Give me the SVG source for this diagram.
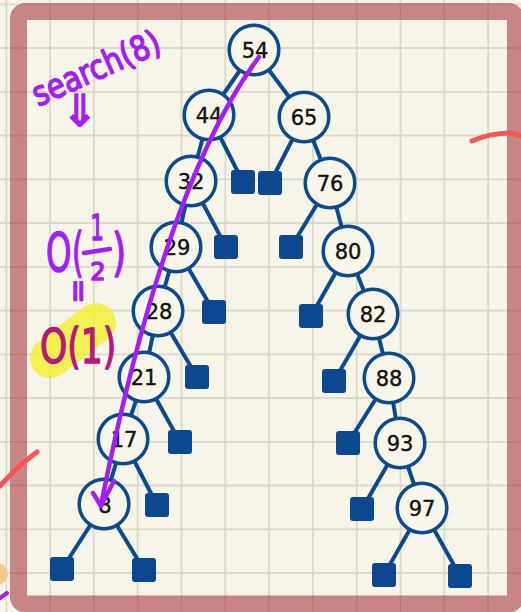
<svg xmlns="http://www.w3.org/2000/svg" width="521" height="612" viewBox="0 0 521 612">
<defs>
<style>
.grid line{stroke:#dcd9cd;stroke-width:1.8}
.edge{stroke:#0b4a8e;stroke-width:4;stroke-linecap:round;fill:none}
.node circle{fill:#f8f6ea;stroke:#0b4a8e;stroke-width:3.5}
.node text{font-family:"DejaVu Sans",sans-serif;font-size:21px;fill:#111;stroke:#111;stroke-width:0.4;text-anchor:middle}
.leaf rect{fill:#0b4890;width:24px;height:24px}
.hand{font-family:"DejaVu Sans",sans-serif;fill:#a31ef2;stroke:#a31ef2;stroke-width:1.5;stroke-linejoin:round}
.pen{stroke:#a31ef2;stroke-width:4.5;stroke-linecap:round;stroke-linejoin:round;fill:none}
.red{stroke:#f25656;stroke-width:5;stroke-linecap:round;fill:none}
</style>
</defs>
<rect width="521" height="612" fill="#f7f5ea"/>
<g class="grid">
<line x1="6.3" y1="0" x2="6.3" y2="612"/><line x1="50.1" y1="0" x2="50.1" y2="612"/><line x1="93.9" y1="0" x2="93.9" y2="612"/><line x1="137.7" y1="0" x2="137.7" y2="612"/><line x1="181.5" y1="0" x2="181.5" y2="612"/><line x1="225.3" y1="0" x2="225.3" y2="612"/><line x1="269.1" y1="0" x2="269.1" y2="612"/><line x1="312.9" y1="0" x2="312.9" y2="612"/><line x1="356.7" y1="0" x2="356.7" y2="612"/><line x1="400.5" y1="0" x2="400.5" y2="612"/><line x1="444.3" y1="0" x2="444.3" y2="612"/><line x1="488.1" y1="0" x2="488.1" y2="612"/>
<line x1="0" y1="4.3" x2="521" y2="4.3"/><line x1="0" y1="48" x2="521" y2="48"/><line x1="0" y1="91.8" x2="521" y2="91.8"/><line x1="0" y1="135.5" x2="521" y2="135.5"/><line x1="0" y1="179.3" x2="521" y2="179.3"/><line x1="0" y1="223" x2="521" y2="223"/><line x1="0" y1="266.8" x2="521" y2="266.8"/><line x1="0" y1="310.5" x2="521" y2="310.5"/><line x1="0" y1="354.3" x2="521" y2="354.3"/><line x1="0" y1="398" x2="521" y2="398"/><line x1="0" y1="441.8" x2="521" y2="441.8"/><line x1="0" y1="485.5" x2="521" y2="485.5"/><line x1="0" y1="529.3" x2="521" y2="529.3"/><line x1="0" y1="573" x2="521" y2="573"/>
</g>
<rect x="18.5" y="11.5" width="497" height="592.5" rx="7" fill="none" stroke="#aa3a42" stroke-opacity="0.6" stroke-width="17"/>
<g id="connectors">
<line class="edge" x1="254" y1="50" x2="209" y2="115"/>
<line class="edge" x1="254" y1="50" x2="304" y2="117"/>
<line class="edge" x1="209" y1="115" x2="191" y2="181"/>
<line class="edge" x1="209" y1="115" x2="243" y2="182"/>
<line class="edge" x1="304" y1="117" x2="270" y2="183"/>
<line class="edge" x1="304" y1="117" x2="330" y2="183"/>
<line class="edge" x1="191" y1="181" x2="176" y2="247"/>
<line class="edge" x1="191" y1="181" x2="226" y2="247"/>
<line class="edge" x1="330" y1="183" x2="291" y2="247"/>
<line class="edge" x1="330" y1="183" x2="348" y2="251"/>
<line class="edge" x1="176" y1="247" x2="158" y2="311"/>
<line class="edge" x1="176" y1="247" x2="214" y2="312"/>
<line class="edge" x1="348" y1="251" x2="311" y2="316"/>
<line class="edge" x1="348" y1="251" x2="373" y2="314"/>
<line class="edge" x1="158" y1="311" x2="144" y2="377"/>
<line class="edge" x1="158" y1="311" x2="197" y2="377"/>
<line class="edge" x1="373" y1="314" x2="334" y2="381"/>
<line class="edge" x1="373" y1="314" x2="389" y2="378"/>
<line class="edge" x1="144" y1="377" x2="123" y2="439"/>
<line class="edge" x1="144" y1="377" x2="180" y2="442"/>
<line class="edge" x1="389" y1="378" x2="348" y2="443"/>
<line class="edge" x1="389" y1="378" x2="400" y2="443"/>
<line class="edge" x1="123" y1="439" x2="104" y2="504"/>
<line class="edge" x1="123" y1="439" x2="157" y2="505"/>
<line class="edge" x1="400" y1="443" x2="362" y2="509"/>
<line class="edge" x1="400" y1="443" x2="422" y2="508"/>
<line class="edge" x1="104" y1="504" x2="62" y2="569"/>
<line class="edge" x1="104" y1="504" x2="144" y2="570"/>
<line class="edge" x1="422" y1="508" x2="384" y2="575"/>
<line class="edge" x1="422" y1="508" x2="460" y2="576"/>
</g>
<g id="leaves" class="leaf">
<rect id="leaf1" x="231" y="170" rx="3"/>
<rect id="leaf2" x="258" y="171" rx="3"/>
<rect id="leaf3" x="214" y="235" rx="3"/>
<rect id="leaf4" x="279" y="235" rx="3"/>
<rect id="leaf5" x="202" y="300" rx="3"/>
<rect id="leaf6" x="299" y="304" rx="3"/>
<rect id="leaf7" x="185" y="365" rx="3"/>
<rect id="leaf8" x="322" y="369" rx="3"/>
<rect id="leaf9" x="168" y="430" rx="3"/>
<rect id="leaf10" x="336" y="431" rx="3"/>
<rect id="leaf11" x="145" y="493" rx="3"/>
<rect id="leaf12" x="350" y="497" rx="3"/>
<rect id="leaf13" x="50" y="557" rx="3"/>
<rect id="leaf14" x="132" y="558" rx="3"/>
<rect id="leaf15" x="372" y="563" rx="3"/>
<rect id="leaf16" x="448" y="564" rx="3"/>
</g>
<g id="n54" class="node"><circle cx="254" cy="50" r="24.8"/><text x="255" y="58">54</text></g>
<g id="n44" class="node"><circle cx="209" cy="115" r="24.8"/><text x="209" y="123">44</text></g>
<g id="n65" class="node"><circle cx="304" cy="117" r="24.8"/><text x="304" y="125">65</text></g>
<g id="n32" class="node"><circle cx="191" cy="181" r="24.8"/><text x="191" y="189">32</text></g>
<g id="n76" class="node"><circle cx="330" cy="183" r="24.8"/><text x="330" y="191">76</text></g>
<g id="n29" class="node"><circle cx="176" cy="247" r="24.8"/><text x="177" y="255">29</text></g>
<g id="n80" class="node"><circle cx="348" cy="251" r="24.8"/><text x="348" y="259">80</text></g>
<g id="n28" class="node"><circle cx="158" cy="311" r="24.8"/><text x="159" y="319">28</text></g>
<g id="n82" class="node"><circle cx="373" cy="314" r="24.8"/><text x="373" y="322">82</text></g>
<g id="n21" class="node"><circle cx="144" cy="377" r="24.8"/><text x="144" y="385">21</text></g>
<g id="n88" class="node"><circle cx="389" cy="378" r="24.8"/><text x="389" y="386">88</text></g>
<g id="n17" class="node"><circle cx="123" cy="439" r="24.8"/><text x="124" y="447">17</text></g>
<g id="n93" class="node"><circle cx="400" cy="443" r="24.8"/><text x="400" y="451">93</text></g>
<g id="n8" class="node"><circle cx="104" cy="504" r="24.8"/><text x="105" y="513">8</text></g>
<g id="n97" class="node"><circle cx="422" cy="508" r="24.8"/><text x="422" y="516">97</text></g>
<g id="annotations">
<path class="pen" d="M259 57 Q166 181 101 505"/>
<polyline class="pen" points="93,493 101,506 114,481"/>
<text class="hand" x="0" y="0" font-size="34" text-anchor="middle" transform="rotate(-24 95 66) translate(95 80) scale(0.85 1)">search(8)</text>
<text class="hand" x="80" y="126" font-size="44" text-anchor="middle">⇓</text>
<text class="hand" x="0" y="0" font-size="54" transform="translate(46 271) scale(0.6 1)">O</text>
<text class="hand" x="0" y="0" font-size="54" transform="translate(72 271) scale(0.55 1)">(</text>
<text class="hand" x="0" y="0" font-size="36" text-anchor="middle" transform="translate(97 240) scale(0.6 1)">1</text>
<line class="pen" x1="84" y1="253" x2="110" y2="249"/>
<text class="hand" x="98" y="280" font-size="24" text-anchor="middle">2</text>
<text class="hand" x="0" y="0" font-size="52" transform="translate(112 270) scale(0.7 1)">)</text>
<text class="hand" x="78" y="300" font-size="30" text-anchor="middle" transform="rotate(90 78 291)">=</text>
<line x1="50" y1="358" x2="96" y2="323" stroke="#f2ee38" stroke-opacity="0.85" stroke-width="40" stroke-linecap="round"/>
<text x="0" y="0" font-family="DejaVu Sans,sans-serif" font-size="48" fill="#b3187a" stroke="#b3187a" stroke-width="1.5" transform="translate(40 363) scale(0.72 1)">O(1)</text>
<path class="red" d="M472 141 Q490 133 512 133 L521 136"/>
<path class="red" d="M0 486 Q18 466 37 452"/>
<circle cx="-3" cy="574" r="11" fill="#f7c88e"/>
<path d="M0 598 L7 593" stroke="#a31ef2" stroke-width="4" stroke-linecap="round"/>
</g>
</svg>
